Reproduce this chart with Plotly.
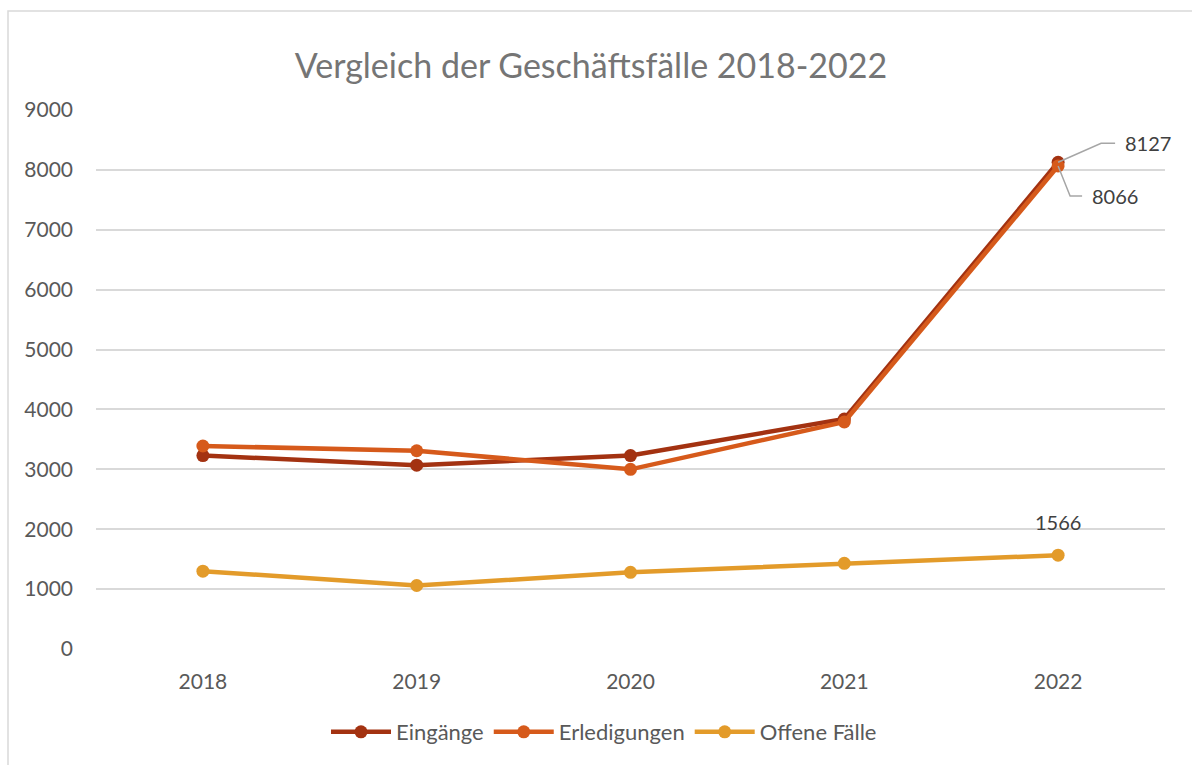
import plotly.graph_objects as go

years = ["2018", "2019", "2020", "2021", "2022"]
eingaenge = [3230, 3070, 3230, 3840, 8127]
erledigungen = [3390, 3310, 3000, 3790, 8066]
offene = [1300, 1060, 1280, 1430, 1566]

series_names = ["Eingänge", "Erledigungen", "Offene Fälle"]
colors = ["#A33211", "#D65A1B", "#E39B2A"]

FONT = "Lato"
W, H = 1192, 765
ml, mr, mt, mb = 96, 27, 110, 116
last = len(years) - 1

fig = go.Figure()
for name, vals, col in zip(series_names, [eingaenge, erledigungen, offene], colors):
    fig.add_trace(go.Scatter(
        x=years, y=vals, name=name, mode="lines+markers",
        line=dict(color=col, width=4.5),
        marker=dict(color=col, size=13),
    ))

# data labels for 2022
fig.add_annotation(x=last, y=eingaenge[-1], text=str(eingaenge[-1]), showarrow=False,
                   xanchor="left", yanchor="middle", xshift=65, yshift=19,
                   font=dict(family=FONT, size=20, color="#404040"))
fig.add_annotation(x=last, y=erledigungen[-1], text=str(erledigungen[-1]), showarrow=False,
                   xanchor="left", yanchor="middle", xshift=32, yshift=-30,
                   font=dict(family=FONT, size=20, color="#404040"))
fig.add_annotation(x=last, y=offene[-1], text=str(offene[-1]), showarrow=False,
                   xanchor="center", yanchor="middle", yshift=33,
                   font=dict(family=FONT, size=20, color="#404040"))

# leader lines
fig.add_shape(type="path", xref="x", yref="y", xsizemode="pixel", ysizemode="pixel",
              xanchor=last, yanchor=eingaenge[-1],
              path="M 0,0 L 43,19 L 57,19", line=dict(color="#A6A6A6", width=1.5))
fig.add_shape(type="path", xref="x", yref="y", xsizemode="pixel", ysizemode="pixel",
              xanchor=last, yanchor=erledigungen[-1],
              path="M 0,0 L 12,-30 L 24,-30", line=dict(color="#A6A6A6", width=1.5))

# chart border
pw = W - ml - mr
ph = H - mt - mb
fig.add_shape(type="rect", xref="paper", yref="paper",
              x0=(8 - ml) / pw, x1=(W + 5 - ml) / pw,
              y0=(H - mb - (H + 5)) / ph, y1=(H - mb - 11) / ph,
              line=dict(color="#D9D9D9", width=1.5), fillcolor="rgba(0,0,0,0)", layer="below")

fig.update_layout(
    width=W, height=H,
    margin=dict(l=ml, r=mr, t=mt, b=mb),
    paper_bgcolor="white", plot_bgcolor="white",
    title=dict(text="Vergleich der Geschäftsfälle 2018-2022", x=591 / W, xanchor="center",
               y=1 - 66 / H, yanchor="middle",
               font=dict(family=FONT, size=34, color="#757575")),
    font=dict(family=FONT, size=21, color="#595959"),
    showlegend=True,
    legend=dict(orientation="h", x=(604 - ml) / pw, xanchor="center", y=(H - mb - 732) / ph,
                yanchor="middle", font=dict(family=FONT, size=22, color="#595959"),
                itemwidth=60, bgcolor="rgba(0,0,0,0)"),
    xaxis=dict(type="category", categoryorder="array", categoryarray=years,
               range=[-0.5, len(years) - 0.5],
               showgrid=False, showline=False, zeroline=False,
               ticks="", tickfont=dict(family=FONT, size=21, color="#595959"),
               ticklabelstandoff=18),
    yaxis=dict(range=[0, 9000], dtick=1000, showgrid=True, gridcolor="#D9D9D9", gridwidth=1.5,
               zeroline=False, showline=False, ticks="",
               tickfont=dict(family=FONT, size=21, color="#595959"),
               ticklabelstandoff=22),
)

fig.write_html("out.html", config={"displayModeBar": False},
               post_script="document.body.style.margin='0';")
